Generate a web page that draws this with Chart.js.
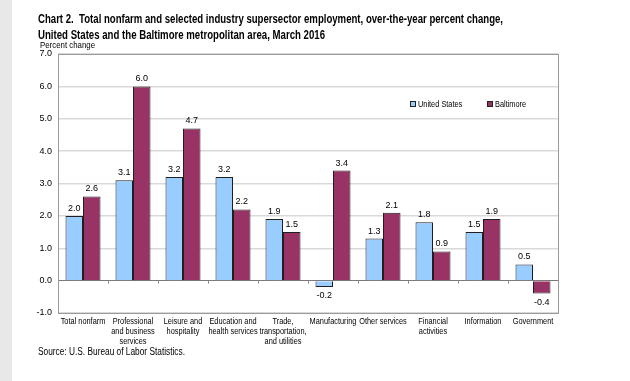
<!DOCTYPE html>
<html>
<head>
<meta charset="utf-8">
<script src="https://cdn.jsdelivr.net/npm/chart.js@4.4.0/dist/chart.umd.min.js"></script>
<style>
  body { margin: 0; background: #fff; }
  #wrap { position: relative; width: 630px; height: 381px; overflow: hidden; background: #fff; }
  #strip { position: absolute; left: 0; top: 0; width: 12px; height: 381px; background: #e8e8e8; }
  canvas { position: absolute; left: 0; top: 0; }
  .txt { position: absolute; font-family: "Liberation Sans", Arial, sans-serif; color: #000; white-space: nowrap; transform-origin: 0 0; }
  #title { left: 38px; top: 11px; font-size: 12px; font-weight: bold; line-height: 16px; }
  #ylab { left: 40px; top: 40px; font-size: 9px; }
  #source { left: 38px; top: 346px; font-size: 10px; }
</style>
</head>
<body>
<div id="wrap">
  <div id="strip"></div>
  <canvas id="barChart" width="630" height="381"></canvas>
  <div class="txt" id="title"><span id="t1">Chart 2.&nbsp; Total nonfarm and selected industry supersector employment, over-the-year percent change,</span><br><span id="t2">United States and the Baltimore metropolitan area, March 2016</span></div>
  <div class="txt" id="ylab">Percent change</div>
  <div class="txt" id="source">Source: U.S. Bureau of Labor Statistics.</div>
</div>
<script>
const categories = [
    'Total nonfarm',
    ['Professional', 'and business', 'services'],
    ['Leisure and', 'hospitality'],
    ['Education and', 'health services'],
    ['Trade,', 'transportation,', 'and utilities'],
    'Manufacturing',
    'Other services',
    ['Financial', 'activities'],
    'Information',
    'Government'
];
const unitedStates = [2.0, 3.1, 3.2, 3.2, 1.9, -0.2, 1.3, 1.8, 1.5, 0.5];
const baltimore = [2.6, 6.0, 4.7, 2.2, 1.5, 3.4, 2.1, 0.9, 1.9, -0.4];
const yTicks = [-1, 0, 1, 2, 3, 4, 5, 6, 7];

const FONT = '"Liberation Sans", Arial, sans-serif';
const SQUEEZE = 0.82; // the original artwork is horizontally compressed

// squeeze the html text so it matches the narrow look of the original
function fitText(id, target) {
    const el = document.getElementById(id);
    const w = el.getBoundingClientRect().width;
    el.style.display = 'inline-block';
    el.style.transformOrigin = '0 0';
    el.style.transform = 'scaleX(' + (target / w) + ')';
}
fitText('t1', 465);
fitText('t2', 287);
fitText('source', 147);
fitText('ylab', 55);

function squeezedText(ctx, text, x, y) {
    ctx.save();
    ctx.translate(x, y);
    ctx.scale(SQUEEZE, 1);
    ctx.fillText(text, 0, 0);
    ctx.restore();
}

const boxAndLabels = {
    id: 'boxAndLabels',
    afterDatasetsDraw(chart) {
        const ctx = chart.ctx;
        const area = chart.chartArea;
        const x = chart.scales.x;
        const y = chart.scales.y;
        ctx.save();
        // value labels
        ctx.font = '9px ' + FONT;
        ctx.fillStyle = '#000';
        ctx.textAlign = 'center';
        chart.data.datasets.forEach((ds, di) => {
            chart.getDatasetMeta(di).data.forEach((bar, i) => {
                const v = ds.data[i];
                if (v >= 0) {
                    ctx.textBaseline = 'bottom';
                    ctx.fillText(v.toFixed(1), bar.x, bar.y - 3);
                } else {
                    ctx.textBaseline = 'top';
                    ctx.fillText(v.toFixed(1), bar.x, bar.y + 4);
                }
            });
        });
        // category labels under the plot
        ctx.font = '9px ' + FONT;
        ctx.textBaseline = 'middle';
        chart.data.labels.forEach((lab, i) => {
            const lines = Array.isArray(lab) ? lab : [lab];
            const cx = x.getPixelForValue(i);
            lines.forEach((line, j) => {
                squeezedText(ctx, line, cx, area.bottom + 9 + j * 10);
            });
        });
        // small tick marks under the zero line
        const zero = y.getPixelForValue(0);
        const step = (area.right - area.left) / categories.length;
        ctx.strokeStyle = '#888';
        ctx.lineWidth = 1;
        for (let i = 1; i < categories.length; i++) {
            const px = Math.round(area.left + step * i) + 0.5;
            ctx.beginPath();
            ctx.moveTo(px, zero);
            ctx.lineTo(px, zero + 3);
            ctx.stroke();
        }
        // plot box
        ctx.strokeStyle = '#9a9a9a';
        ctx.strokeRect(Math.round(area.left) + 0.5, Math.round(area.top) + 0.5,
            Math.round(area.right - area.left), Math.round(area.bottom - area.top));
        // legend inside the plot
        ctx.font = '9px ' + FONT;
        ctx.textAlign = 'left';
        ctx.textBaseline = 'middle';
        const items = [[410, 0], [487, 1]];
        items.forEach(([lx, di]) => {
            const ds = chart.data.datasets[di];
            ctx.fillStyle = ds.backgroundColor;
            ctx.fillRect(lx, 101, 6, 6);
            ctx.strokeStyle = '#222';
            ctx.strokeRect(lx + 0.5, 101.5, 5, 5);
            ctx.fillStyle = '#000';
            squeezedText(ctx, ds.label, lx + 8, 104.5);
        });
        ctx.restore();
    }
};

const ctx = document.getElementById('barChart').getContext('2d');
const chartInstance = new Chart(ctx, {
    type: 'bar',
    data: {
        labels: categories,
        datasets: [{
            label: 'United States',
            data: unitedStates,
            backgroundColor: '#99ccff',
            borderColor: '#1f1f1f',
            borderWidth: 1
        }, {
            label: 'Baltimore',
            data: baltimore,
            backgroundColor: '#993366',
            borderColor: '#1f1f1f',
            borderWidth: 1
        }]
    },
    options: {
        responsive: false,
        animation: false,
        layout: { padding: { left: 0, right: 72, top: 54, bottom: 0 } },
        categoryPercentage: 0.7,
        barPercentage: 1.0,
        plugins: {
            legend: { display: false },
            tooltip: { enabled: false }
        },
        scales: {
            x: {
                grid: { display: false, drawTicks: false },
                border: { display: false },
                ticks: { display: false },
                afterFit(scale) { scale.height = 68; }
            },
            y: {
                min: -1,
                max: 7,
                afterBuildTicks(scale) {
                    scale.ticks = yTicks.map(v => ({ value: v }));
                },
                grid: {
                    drawTicks: false,
                    color: c => (c.tick && c.tick.value === 0) ? '#7a7a7a' : '#d9d9d9',
                    lineWidth: c => (c.tick && c.tick.value === 0) ? 1 : 1.5
                },
                border: { display: false },
                ticks: {
                    color: '#000',
                    font: { family: FONT, size: 9 },
                    padding: 6,
                    callback: v => v.toFixed(1)
                },
                afterFit(scale) { scale.width = 58; }
            }
        }
    },
    plugins: [boxAndLabels]
});
</script>
</body>
</html>
